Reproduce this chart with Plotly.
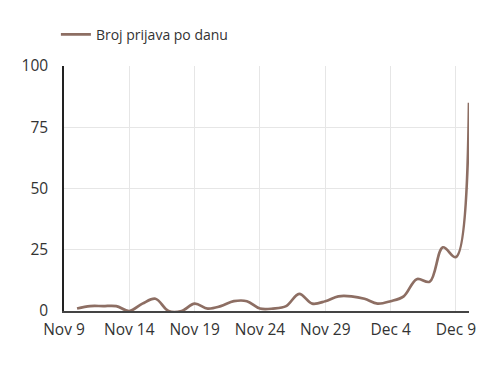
import plotly.graph_objects as go
import pandas as pd

dates = pd.date_range("2020-11-10", "2020-12-10", freq="D")
values = [1, 2, 2, 2, 0, 3, 5, 0, 0, 3, 1, 2, 4, 4, 1, 1, 2, 7, 3, 4, 6, 6, 5, 3, 4, 6, 13, 12, 26, 22, 85]
series_name = "Broj prijava po danu"
y_ticks = [0, 25, 50, 75, 100]

fig = go.Figure()
fig.add_trace(go.Scatter(
    x=dates, y=values, mode="lines", name=series_name,
    line=dict(color="#8d6e63", width=2.7, shape="spline", smoothing=1),
    showlegend=True,
))

fig.update_layout(
    width=492, height=367,
    margin=dict(l=56, r=31, t=58, b=64, autoexpand=False),
    paper_bgcolor="white", plot_bgcolor="white",
    font=dict(family="Open Sans", size=15.5, color="#333"),
    legend=dict(orientation="h", x=-0.02, y=1.062, xanchor="left", yanchor="bottom",
                font=dict(size=14, color="#333")),
    xaxis=dict(
        range=["2020-11-09", "2020-12-10"],
        tickvals=pd.date_range("2020-11-09", "2020-12-09", freq="5D"),
        tickformat="%b %-d",
        showgrid=True, gridcolor="#e6e6e6", gridwidth=1,
        showline=True, linecolor="#444", linewidth=1.5,
        zeroline=False, ticks="", ticklen=0, ticklabelstandoff=4,
    ),
    yaxis=dict(
        range=[0, 100], tickvals=y_ticks,
        showgrid=True, gridcolor="#e6e6e6", gridwidth=1,
        showline=True, linecolor="#222", linewidth=1.5,
        zeroline=False, ticks="", ticklen=0, ticklabelstandoff=11,
    ),
)

fig.write_html("out.html")
